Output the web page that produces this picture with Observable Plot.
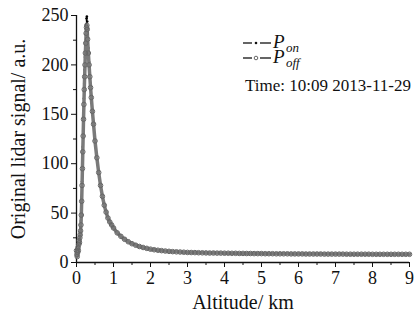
<!DOCTYPE html>
<html>
<head>
<meta charset="utf-8">
<script src="https://cdn.jsdelivr.net/npm/d3@7"></script>
<script src="https://cdn.jsdelivr.net/npm/@observablehq/plot@0.6"></script>
<style>
  html, body { margin: 0; padding: 0; background: #fff; overflow: hidden; }
  #wrap { position: relative; width: 414px; height: 321px; }
  #legend { position: absolute; left: 0; top: 0; }
  svg text { font-family: "Liberation Serif", "Times New Roman", serif; }
</style>
</head>
<body>
<div id="wrap"></div>
<script>
// Altitude (km)
const altitude = [
  0, 0.01, 0.02, 0.03, 0.04, 0.05, 0.06, 0.07, 0.08, 0.09,
  0.10, 0.11, 0.12, 0.13, 0.14, 0.15, 0.16, 0.17, 0.18, 0.19,
  0.20, 0.21, 0.22, 0.23, 0.24, 0.25, 0.26, 0.27, 0.28, 0.29,
  0.30, 0.32, 0.34, 0.36, 0.38, 0.40, 0.43, 0.46, 0.50, 0.55,
  0.60, 0.65, 0.70, 0.75, 0.80, 0.85, 0.90, 0.95,
  1.0, 1.1, 1.2, 1.3, 1.4, 1.5, 1.6, 1.7, 1.8, 1.9,
  2.0, 2.1, 2.2, 2.3, 2.4, 2.5, 2.6, 2.7, 2.8, 2.9,
  3.0, 3.1, 3.2, 3.3, 3.4, 3.5, 3.6, 3.7, 3.8, 3.9,
  4.0, 4.1, 4.2, 4.3, 4.4, 4.5, 4.6, 4.7, 4.8, 4.9,
  5.0, 5.1, 5.2, 5.3, 5.4, 5.5, 5.6, 5.7, 5.8, 5.9,
  6.0, 6.1, 6.2, 6.3, 6.4, 6.5, 6.6, 6.7, 6.8, 6.9,
  7.0, 7.1, 7.2, 7.3, 7.4, 7.5, 7.6, 7.7, 7.8, 7.9,
  8.0, 8.1, 8.2, 8.3, 8.4, 8.5, 8.6, 8.7, 8.8, 8.9,
  9.0
];
// P_off signal (a.u.)
const pOff = [
  12, 8, 6, 10, 15, 12, 18, 22, 20, 25,
  28, 32, 38, 48, 62, 78, 95, 112, 128, 145,
  160, 175, 188, 200, 212, 222, 232, 238, 240, 236,
  226, 212, 200, 188, 177, 167, 153, 140, 123, 106,
  91, 78, 67, 58, 51, 45, 41, 38,
  35, 30, 26.5, 23.5, 21, 19, 17.5, 16.2, 15.2, 14.3,
  13.5, 12.9, 12.4, 12, 11.6, 11.3, 11, 10.8, 10.6, 10.4,
  10.2, 10.1, 10, 9.9, 9.8, 9.7, 9.6, 9.6, 9.5, 9.5,
  9.4, 9.4, 9.3, 9.3, 9.2, 9.2, 9.1, 9.1, 9.0, 9.0,
  9.0, 8.9, 8.9, 8.9, 8.8, 8.8, 8.8, 8.8, 8.7, 8.7,
  8.7, 8.7, 8.6, 8.6, 8.6, 8.6, 8.6, 8.5, 8.5, 8.5,
  8.5, 8.5, 8.5, 8.4, 8.4, 8.4, 8.4, 8.4, 8.4, 8.4,
  8.3, 8.3, 8.3, 8.3, 8.3, 8.3, 8.3, 8.3, 8.3, 8.3,
  8.3
];
// P_on signal (a.u.)
const pOn = [
  13, 9, 7, 11, 16, 13, 19, 23, 22, 27,
  30, 35, 42, 52, 66, 82, 100, 117, 133, 150,
  166, 181, 195, 208, 220, 231, 240, 247, 249, 244,
  232, 217, 203, 190, 179, 168, 154, 141, 124, 107,
  92, 79, 68, 59, 52, 46, 42, 38.5,
  35.5, 30.5, 27, 24, 21.3, 19.3, 17.8, 16.4, 15.4, 14.5,
  13.7, 13.1, 12.5, 12.1, 11.7, 11.4, 11.1, 10.9, 10.7, 10.5,
  10.3, 10.2, 10.1, 10, 9.9, 9.8, 9.7, 9.7, 9.6, 9.6,
  9.5, 9.5, 9.4, 9.4, 9.3, 9.3, 9.2, 9.2, 9.1, 9.1,
  9.1, 9.0, 9.0, 9.0, 8.9, 8.9, 8.9, 8.9, 8.8, 8.8,
  8.8, 8.8, 8.7, 8.7, 8.7, 8.7, 8.7, 8.6, 8.6, 8.6,
  8.6, 8.6, 8.6, 8.5, 8.5, 8.5, 8.5, 8.5, 8.5, 8.5,
  8.4, 8.4, 8.4, 8.4, 8.4, 8.4, 8.4, 8.4, 8.4, 8.4,
  8.4
];
const xTicks = [0, 1, 2, 3, 4, 5, 6, 7, 8, 9];
const xMinor = [0.5, 1.5, 2.5, 3.5, 4.5, 5.5, 6.5, 7.5, 8.5];
const yTicks = [0, 50, 100, 150, 200, 250];
const yMinor = [25, 75, 125, 175, 225];
const xTitle = "Altitude/ km";
const yTitle = "Original lidar signal/ a.u.";
const timeLabel = "Time: 10:09 2013-11-29";

const onData = altitude.map((a, i) => ({alt: a, v: pOn[i]}));
const offData = altitude.map((a, i) => ({alt: a, v: pOff[i]}));

const chart = Plot.plot({
  width: 414,
  height: 321,
  marginLeft: 76,
  marginRight: 5,
  marginTop: 15,
  marginBottom: 59,
  style: {fontFamily: "'Liberation Serif', serif", fontSize: "18px", color: "#111", background: "#fff"},
  x: {domain: [0, 9]},
  y: {domain: [0, 250]},
  marks: [
    Plot.axisX({ticks: xTicks, tickSize: 5, tickPadding: 4, label: null, fontSize: 18}),
    Plot.axisX({ticks: xMinor, tickSize: 3, tickFormat: () => "", label: null}),
    Plot.axisY({ticks: yTicks, tickSize: 5, tickPadding: 3, label: null, fontSize: 18}),
    Plot.axisY({ticks: yMinor, tickSize: 3, tickFormat: () => "", label: null}),
    Plot.ruleY([0], {stroke: "#111", strokeWidth: 1.3}),
    Plot.ruleX([0], {stroke: "#111", strokeWidth: 1.3}),
    Plot.line(onData, {x: "alt", y: "v", stroke: "#000", strokeWidth: 1.2, strokeDasharray: "4,2,1,2"}),
    Plot.dot(onData, {x: "alt", y: "v", r: 1.3, fill: "#000"}),
    Plot.line(offData, {x: "alt", y: "v", stroke: "#7a7a7a", strokeWidth: 3.5}),
    Plot.dot(offData, {x: "alt", y: "v", r: 2.3, stroke: "#666", strokeWidth: 1, fill: "none"}),
    Plot.text([xTitle], {frameAnchor: "bottom", dy: 46, lineAnchor: "bottom", fontSize: 20, fill: "#111"}),
    Plot.text([yTitle], {frameAnchor: "left", dx: -58, rotate: -90, textAnchor: "middle", fontSize: 20, fill: "#111"})
  ]
});
document.getElementById("wrap").appendChild(chart);

// legend overlay
const lg = d3.select("#wrap").append("svg")
  .attr("id", "legend").attr("width", 414).attr("height", 321);
function entry(y, sym, sub) {
  lg.append("line").attr("x1", 243).attr("x2", 252).attr("y1", y).attr("y2", y).attr("stroke", "#111").attr("stroke-width", 1.3);
  lg.append("line").attr("x1", 260).attr("x2", 271).attr("y1", y).attr("y2", y).attr("stroke", "#111").attr("stroke-width", 1.3);
  if (sym === "dot") lg.append("circle").attr("cx", 256).attr("cy", y).attr("r", 1.3).attr("fill", "#111");
  else lg.append("circle").attr("cx", 256).attr("cy", y).attr("r", 1.8).attr("fill", "#fff").attr("stroke", "#555").attr("stroke-width", 0.9);
  lg.append("text").attr("x", 273).attr("y", y + 5).attr("font-size", 19).attr("font-style", "italic").attr("fill", "#111").text("P");
  lg.append("text").attr("x", 286).attr("y", y + 9).attr("font-size", 13).attr("font-style", "italic").attr("fill", "#111").text(sub);
}
entry(43, "dot", "on");
entry(58, "circle", "off");
lg.append("text").attr("x", 245).attr("y", 91).attr("font-size", 17).attr("fill", "#111").text(timeLabel);
</script>
</body>
</html>
